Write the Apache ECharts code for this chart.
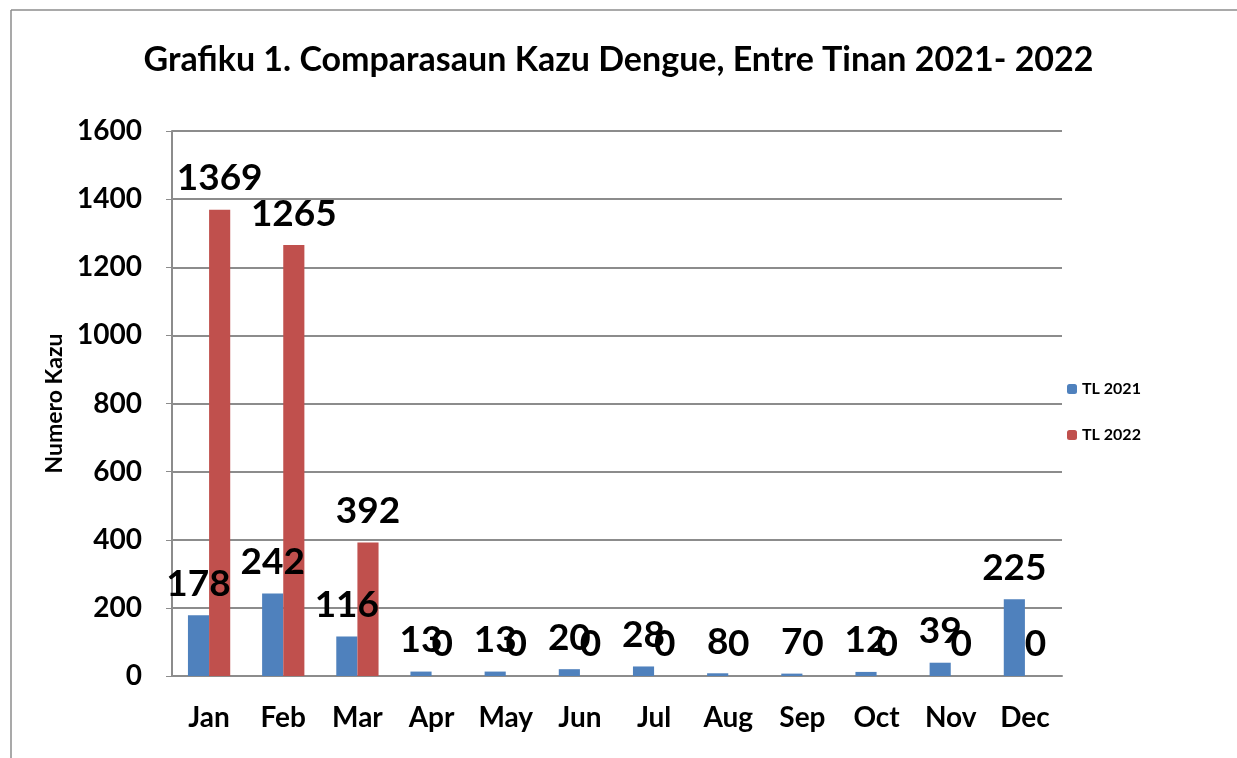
<!DOCTYPE html>
<html>
<head>
<meta charset="utf-8">
<script src="https://cdn.jsdelivr.net/npm/echarts@6/dist/echarts.min.js"></script>
<style>
  html, body { margin: 0; padding: 0; background: #fff; }
  #chartmain { width: 1237px; height: 758px; }
</style>
</head>
<body>
<div id="chartmain"></div>
<script>
var months = ['Jan', 'Feb', 'Mar', 'Apr', 'May', 'Jun', 'Jul', 'Aug', 'Sep', 'Oct', 'Nov', 'Dec'];
var tl2021 = [178, 242, 116, 13, 13, 20, 28, 8, 7, 12, 39, 225];
var tl2022 = [1369, 1265, 392, 0, 0, 0, 0, 0, 0, 0, 0, 0];

var font = 'Lato, "Open Sans", sans-serif';
var myChart = echarts.init(document.getElementById('chartmain'));
var labelStyle = {
    show: true,
    position: 'top',
    distance: 13,
    fontSize: 37,
    fontWeight: 'bold',
    fontFamily: font,
    color: '#000'
};
var option = {
    animation: false,
    backgroundColor: '#fff',
    title: {
        text: 'Grafiku 1. Comparasaun Kazu Dengue, Entre Tinan 2021- 2022',
        left: 'center',
        top: 38,
        textStyle: { fontSize: 34, fontWeight: 'bold', fontFamily: font, color: '#000' }
    },
    legend: {
        orient: 'vertical',
        left: 1062,
        top: 376,
        itemWidth: 10,
        itemHeight: 10,
        itemGap: 30,
        textStyle: { fontSize: 16, fontWeight: 'bold', fontFamily: font, color: '#000' },
        data: ['TL 2021', 'TL 2022']
    },
    grid: { left: 172, right: 175, top: 131, bottom: 82 },
    graphic: [
        { type: 'line', shape: { x1: 11, y1: 10, x2: 1237, y2: 10 }, style: { stroke: '#8c8c8c', lineWidth: 1.5 } },
        { type: 'line', shape: { x1: 11, y1: 10, x2: 11, y2: 758 }, style: { stroke: '#8c8c8c', lineWidth: 1.5 } }
    ],
    xAxis: {
        type: 'category',
        data: months,
        axisLine: { lineStyle: { color: '#8c8c8c', width: 2 } },
        axisTick: { show: false },
        axisLabel: { margin: 28, fontSize: 28, fontWeight: 'bold', fontFamily: font, color: '#000' }
    },
    yAxis: {
        type: 'value',
        min: 0,
        max: 1600,
        interval: 200,
        name: 'Numero Kazu',
        nameLocation: 'middle',
        nameGap: 104,
        nameRotate: 90,
        nameTextStyle: { fontSize: 23, fontWeight: 'bold', fontFamily: font, color: '#000' },
        axisLine: { show: true, lineStyle: { color: '#8c8c8c', width: 2 } },
        axisTick: { show: true, length: 6, lineStyle: { color: '#8c8c8c' } },
        splitLine: { lineStyle: { color: '#8c8c8c', width: 2 } },
        axisLabel: {
            margin: 30, fontSize: 28, fontWeight: 'bold', fontFamily: font, color: '#000',
            formatter: function (v) { return String(v); }
        }
    },
    series: [
        {
            name: 'TL 2021',
            type: 'bar',
            data: tl2021,
            barGap: '0%',
            barCategoryGap: '43%',
            itemStyle: { color: '#4F81BD' },
            label: labelStyle
        },
        {
            name: 'TL 2022',
            type: 'bar',
            data: tl2022,
            itemStyle: { color: '#C0504D' },
            label: labelStyle
        }
    ]
};
myChart.setOption(option);
</script>
</body>
</html>
